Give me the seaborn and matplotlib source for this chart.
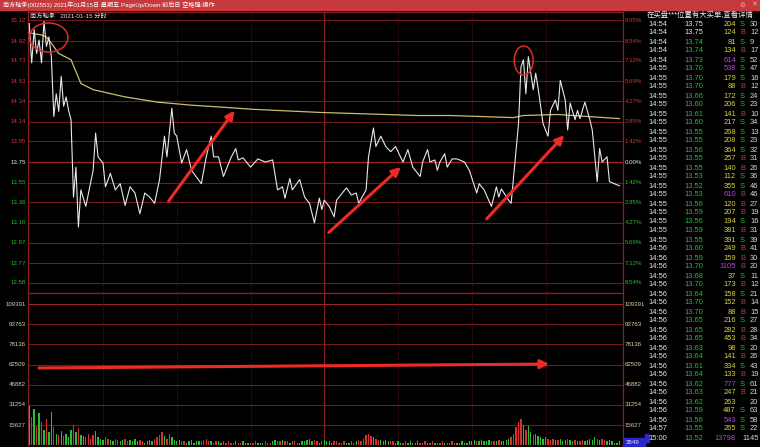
import matplotlib

matplotlib.use("Agg")
import matplotlib.pyplot as plt
import matplotlib.transforms as mtrans
from matplotlib.patches import Ellipse, Rectangle
import numpy as np
import pandas as pd
import seaborn as sns

W, H = 760, 447
PREV_CLOSE = 13.75

# axis labels
price_ticks = [15.12, 14.92, 14.73, 14.53, 14.34, 14.14, 13.95, 13.75,
               13.55, 13.36, 13.16, 12.97, 12.77, 12.58]
pct_labels = ["9.95%", "8.54%", "7.12%", "5.69%", "4.27%", "2.85%", "1.42%", "0.00%",
              "1.42%", "2.85%", "4.27%", "5.69%", "7.12%", "8.54%"]
vol_ticks = [109391, 93763, 78136, 62509, 46882, 31254, 15627]

# intraday price (minute index from 9:30, price)
price_min = [0, 1, 2, 3, 4, 5, 6, 7, 8, 9, 10, 11, 12, 13, 14, 15, 16, 17, 18, 19,
             20, 21, 23, 26, 27, 28, 30, 31, 33, 35, 37, 39, 41, 43, 45, 47, 49, 51, 53, 55,
             56, 58, 59, 60, 62, 64, 66, 70, 72, 74, 75, 77, 79, 82, 84, 85, 87, 90, 93, 96,
             99, 101, 103, 104, 106, 107, 110, 112, 114, 116, 118, 119, 120, 122, 124, 125, 129, 131, 133, 134,
             137, 138, 140, 141, 143, 145, 147, 149, 151, 152, 154, 156, 159, 160, 162, 163, 165, 166, 167, 169,
             170, 172, 174, 177, 179, 182, 183, 185, 188, 190, 191, 192, 195, 196, 197, 199, 200, 201, 202, 203,
             204, 205, 206, 207, 208, 209, 211, 212, 214, 215, 216, 218, 219, 220, 222, 223, 224, 226, 228, 229,
             231, 232, 233, 235, 236, 240]
price_val = [15.09, 14.71, 15.03, 14.80, 14.93, 14.71, 15.11, 14.87, 14.96, 14.77, 14.19, 14.41, 14.24, 14.58, 14.29, 14.38, 14.25, 14.16, 13.41, 13.70,
             13.12, 13.48, 13.32, 13.67, 14.03, 13.80, 13.74, 13.51, 13.64, 13.48, 13.54, 13.33, 13.51, 13.45, 13.25, 13.45, 13.41, 13.35, 13.58, 14.00,
             13.80, 14.27, 14.03, 14.00, 13.74, 13.87, 13.67, 13.54, 13.80, 14.00, 13.80, 13.80, 13.61, 13.79, 13.88, 13.77, 13.79, 13.70, 13.78, 13.75,
             13.77, 13.48, 13.51, 13.40, 13.59, 13.48, 13.58, 13.41, 13.35, 13.16, 13.40, 13.29, 13.38, 13.32, 13.22, 13.38, 13.50, 13.43, 13.45, 13.35,
             13.48, 13.80, 14.08, 13.90, 14.00, 13.90, 13.85, 13.90, 13.80, 13.75, 13.87, 13.70, 13.61, 13.75, 13.87, 13.75, 13.77, 13.67, 13.75, 13.83,
             13.70, 13.78, 13.78, 13.75, 13.67, 13.45, 13.54, 13.48, 13.32, 13.51, 13.41, 13.49, 13.38, 13.35, 13.61, 14.12, 14.67, 14.74, 14.41, 14.77,
             14.61, 14.45, 14.61, 14.46, 14.29, 14.12, 14.00, 14.25, 14.35, 14.25, 14.54, 14.35, 14.06, 14.32, 14.16, 14.25, 14.17, 14.33, 14.16, 14.06,
             13.56, 13.88, 13.75, 13.80, 13.56, 13.52]

# average price line
avg_min = [0, 5, 7, 9, 12, 17, 21, 26, 39, 52, 66, 79, 91, 118, 158, 171, 197, 201, 215, 240]
avg_val = [15.00, 14.98, 14.96, 14.90, 14.80, 14.74, 14.51, 14.45, 14.38, 14.33,
           14.30, 14.28, 14.26, 14.23, 14.20, 14.20, 14.18, 14.20, 14.21, 14.17]

# per-minute volume (lots)
volume = [30000, 22000, 28000, 15000, 25000, 18000, 12000, 20000, 10000, 26000,
          14000, 9000, 8000, 11000, 7000, 9000, 6000, 12000, 16000, 10000,
          13000, 8000, 7000, 6000, 9000, 5000, 8000, 11000, 6000, 5000,
          4000, 6000, 5000, 4000, 3000, 5000, 4000, 3000, 4000, 5000,
          3000, 4000, 3000, 5000, 3000, 4000, 3000, 2000, 3000, 4000,
          3000, 5000, 6000, 8000, 10000, 7000, 5000, 9000, 6000, 4000,
          3000, 4000, 3000, 3000, 2000, 3000, 4000, 2000, 3000, 3000,
          3000, 4000, 5000, 3000, 3000, 2000, 3000, 3000, 2000, 3000,
          2000, 3000, 2000, 2000, 3000, 2000, 2000, 3000, 2000, 2000,
          2000, 2000, 3000, 2000, 2000, 2000, 3000, 2000, 2000, 3000,
          4000, 3000, 3000, 4000, 3000, 3000, 2000, 3000, 3000, 2000,
          2000, 3000, 3000, 4000, 5000, 3000, 4000, 3000, 2000, 3000,
          4000, 3000, 3000, 2000, 3000, 3000, 2000, 2000, 3000, 2000,
          2000, 3000, 2000, 3000, 4000, 3000, 5000, 8000, 9000, 7000,
          6000, 5000, 4000, 4000, 3000, 4000, 3000, 3000, 3000, 2000,
          3000, 2000, 2000, 3000, 2000, 3000, 2000, 2000, 3000, 2000,
          2000, 3000, 2000, 2000, 3000, 2000, 2000, 2000, 3000, 2000,
          2000, 2000, 3000, 2000, 2000, 2000, 3000, 2000, 2000, 3000,
          3000, 4000, 3000, 3000, 4000, 3000, 3000, 4000, 3000, 3000,
          3000, 4000, 3000, 3000, 4000, 5000, 6000, 9000, 14000, 18000,
          20000, 16000, 12000, 15000, 10000, 8000, 9000, 7000, 6000, 5000,
          6000, 5000, 4000, 5000, 4000, 4000, 5000, 3000, 4000, 5000,
          4000, 3000, 4000, 3000, 3000, 4000, 3000, 4000, 5000, 4000,
          6000, 5000, 4000, 5000, 4000, 3000, 4000, 3000, 2000, 2000,
          3549]

# tick-by-tick list on the right
tick_times = ["14:54"] * 5 + ["14:55"] * 20 + ["14:56"] * 20 + ["14:57", "15:00"]
tick_prices = ["13.75", "13.75", "13.74", "13.74", "13.73", "13.70", "13.70", "13.70", "13.66", "13.60",
               "13.61", "13.60", "13.55", "13.55", "13.56", "13.55", "13.55", "13.53", "13.52", "13.53",
               "13.56", "13.59", "13.56", "13.59", "13.55", "13.60", "13.59", "13.70", "13.68", "13.70",
               "13.64", "13.70", "13.70", "13.65", "13.65", "13.65", "13.63", "13.64", "13.61", "13.64",
               "13.62", "13.63", "13.62", "13.59", "13.56", "13.55", "13.52"]
tick_vols = [204, 124, 81, 134, 614, 538, 179, 88, 172, 206,
             141, 217, 268, 208, 364, 257, 140, 112, 355, 610,
             120, 207, 194, 381, 391, 249, 159, 1105, 37, 173,
             158, 152, 88, 216, 282, 453, 98, 141, 334, 133,
             777, 247, 263, 487, 543, 265, 13798]
tick_side = ["S", "B", "S", "B", "S", "S", "S", "B", "S", "S",
             "B", "S", "S", "S", "S", "B", "B", "S", "S", "B",
             "B", "B", "S", "B", "S", "B", "B", "B", "S", "B",
             "S", "B", "B", "S", "B", "B", "S", "B", "S", "B",
             "S", "B", "", "S", "S", "S", ""]
tick_count = [30, 12, 9, 17, 52, 47, 16, 12, 24, 23,
              10, 34, 13, 23, 32, 31, 26, 36, 46, 46,
              27, 19, 16, 31, 39, 41, 30, 20, 11, 12,
              21, 14, 15, 27, 28, 34, 20, 26, 43, 19,
              61, 21, 20, 63, 58, 22, 1145]

RED = "#d83434"
GREEN = "#22c02a"
GRID = "#741a1c"
FONTS = ["Liberation Sans", "Noto Sans CJK SC", "DejaVu Sans"]

plt.rcParams["font.family"] = FONTS


def fx(px):
    return px / W


def fy(py):
    return 1 - py / H


fig = plt.figure(figsize=(W / 100, H / 100), dpi=100, facecolor="black")

# price panel
ax = fig.add_axes([fx(28), fy(293), fx(595), 281 / H])
ax.set_facecolor("black")
ax.set_xlim(-0.5, 241.5)
ax.set_ylim(12.482, 15.202)
for p in price_ticks:
    is_mid = abs(p - PREV_CLOSE) < 1e-6
    ax.axhline(p, color="#a02022" if is_mid else GRID, lw=1.0 if is_mid else 0.8, zorder=1)
for m in [30, 60, 90, 150, 180, 210]:
    ax.axvline(m, color=GRID, lw=0.6, ls=(0, (1, 2)), zorder=1)
ax.axvline(120, color="#8a1e20", lw=0.9, zorder=1)

df_price = pd.DataFrame({"minute": price_min, "price": price_val})
df_avg = pd.DataFrame({"minute": avg_min, "price": avg_val})
sns.lineplot(data=df_avg, x="minute", y="price", ax=ax, color="#c8c070", lw=0.9, zorder=3)
sns.lineplot(data=df_price, x="minute", y="price", ax=ax, color="#e8e8e8", lw=0.8, zorder=4)

# annotations drawn on the original screenshot
arrow = dict(arrowstyle="-|>,head_length=0.5,head_width=0.25", color="#ee2a24", lw=2.2)
for (m0, p0, m1, p1) in [(56, 13.35, 84.2, 14.27), (121, 13.05, 152, 13.72), (185.3, 13.18, 218.4, 14.03)]:
    ax.annotate("", xy=(m1, p1), xytext=(m0, p0), arrowprops=arrow, zorder=6)
ax.add_patch(Ellipse((7.9, 14.955), 15.7, 0.281, fill=False, ec="#e02a26", lw=1.1, zorder=6))
ax.add_patch(Ellipse((201.1, 14.733), 7.7, 0.281, fill=False, ec="#e02a26", lw=1.1, zorder=6))

ax.set_xticks([])
ax.set_yticks([])
ax.set_xlabel("")
ax.set_ylabel("")
for s in ax.spines.values():
    s.set_color("#8a1e20")
    s.set_linewidth(0.9)

lab_tr = mtrans.blended_transform_factory(fig.transFigure, ax.transData)
for i, (p, pct) in enumerate(zip(price_ticks, pct_labels)):
    c = RED if p > PREV_CLOSE + 1e-6 else ("#e6e6e6" if abs(p - PREV_CLOSE) < 1e-6 else GREEN)
    ax.text(fx(26), p, f"{p:.2f}", transform=lab_tr, ha="right", va="center", fontsize=4.4, color=c)
    ax.text(fx(625), p, pct, transform=lab_tr, ha="left", va="center", fontsize=4.4, color=c)

# volume panel
vax = fig.add_axes([fx(28), 0, fx(595), 154 / H])
vax.set_facecolor("black")
vax.set_xlim(-0.5, 241.5)
vax.set_ylim(-1395, 117920)
for v in vol_ticks:
    vax.axhline(v, color="#a02022" if v == vol_ticks[0] else GRID, lw=0.8, zorder=1)
for m in [30, 60, 90, 150, 180, 210]:
    vax.axvline(m, color=GRID, lw=0.6, ls=(0, (1, 2)), zorder=1)
vax.axvline(120, color="#8a1e20", lw=0.9, zorder=1)

minutes = np.arange(len(volume))
seg = np.clip(np.searchsorted(price_min, minutes, side="right"), 1, len(price_min) - 1)
rising = np.array(price_val)[seg] >= np.array(price_val)[seg - 1]
bar_colors = np.where(rising, "#d83030", "#28c030")
vax.bar(minutes, volume, width=0.55, color=bar_colors, zorder=3)

vax.annotate("", xy=(212.6, 62900), xytext=(2.8, 59800), arrowprops=arrow, zorder=6)

vax.set_xticks([])
vax.set_yticks([])
for s in vax.spines.values():
    s.set_color("#8a1e20")
    s.set_linewidth(0.9)

vlab_tr = mtrans.blended_transform_factory(fig.transFigure, vax.transData)
for v in vol_ticks:
    vax.text(fx(26), v, str(v), transform=vlab_tr, ha="right", va="center", fontsize=4.4, color="#d8d0a8")
    vax.text(fx(625), v, str(v), transform=vlab_tr, ha="left", va="center", fontsize=4.4, color="#d8d0a8")

# current volume box
fig.add_artist(Rectangle((fx(624), fy(447)), fx(21), 9 / H, transform=fig.transFigure, color="#2828c8", zorder=5))
fig.text(fx(626), fy(442.5), str(volume[-1]), ha="left", va="center", fontsize=4.4, color="#e8e8ff", zorder=6)

# title bar
fig.add_artist(Rectangle((0, fy(10)), 1, 10 / H, transform=fig.transFigure, color="#c63a3e", zorder=5))
fig.text(fx(3), fy(5), "南方轴承(002553) 2021年01月15日 星期五 PageUp/Down:前后日 空格键:操作",
         ha="left", va="center", fontsize=4.4, color="white", zorder=6)
fig.text(fx(742), fy(5), "⊘", ha="center", va="center", fontsize=5, color="#f0b0b0", zorder=6,
         family=["DejaVu Sans"])
fig.text(fx(754), fy(5), "✕", ha="center", va="center", fontsize=5, color="#f0b0b0", zorder=6,
         family=["DejaVu Sans"])
fig.text(fx(30), fy(16), "南方轴承   2021-01-15 分时", ha="left", va="center", fontsize=4.5,
         color="#e0e0e0", zorder=6)

# right tick list
fig.text(fx(647), fy(15.5), "在买盘***位置有大买单,查看详情", ha="left", va="center", fontsize=5.3,
         color="#f0f0f0")
for i in range(len(tick_times)):
    y = fy(24 + 9 * i)
    p = float(tick_prices[i])
    pc = "#e6e6e6" if abs(p - PREV_CLOSE) < 1e-6 else (RED if p > PREV_CLOSE else GREEN)
    vc = "#c040e0" if tick_vols[i] >= 500 else "#d8d040"
    last = i == len(tick_times) - 1
    fig.text(fx(648), y, tick_times[i], ha="left", va="center", fontsize=5.4, color="#e6e6e6")
    fig.text(fx(684), y, tick_prices[i], ha="left", va="center", fontsize=5.4, color=pc)
    fig.text(fx(736), y, str(tick_vols[i]), ha="right", va="center", fontsize=5.4, color=vc)
    if tick_side[i]:
        sc = RED if tick_side[i] == "B" else GREEN
        fig.text(fx(740), y, tick_side[i], ha="left", va="center", fontsize=5.4, color=sc)
    fig.text(fx(759) if last else fx(750), y, str(tick_count[i]),
             ha="right" if last else "left", va="center", fontsize=5.4, color="#d8d8d8")
fig.add_artist(Rectangle((fx(645), fy(442)), fx(4), 8 / H, transform=fig.transFigure, color="#2828c8"))

fig.savefig("out.png", dpi=100, facecolor="black")
